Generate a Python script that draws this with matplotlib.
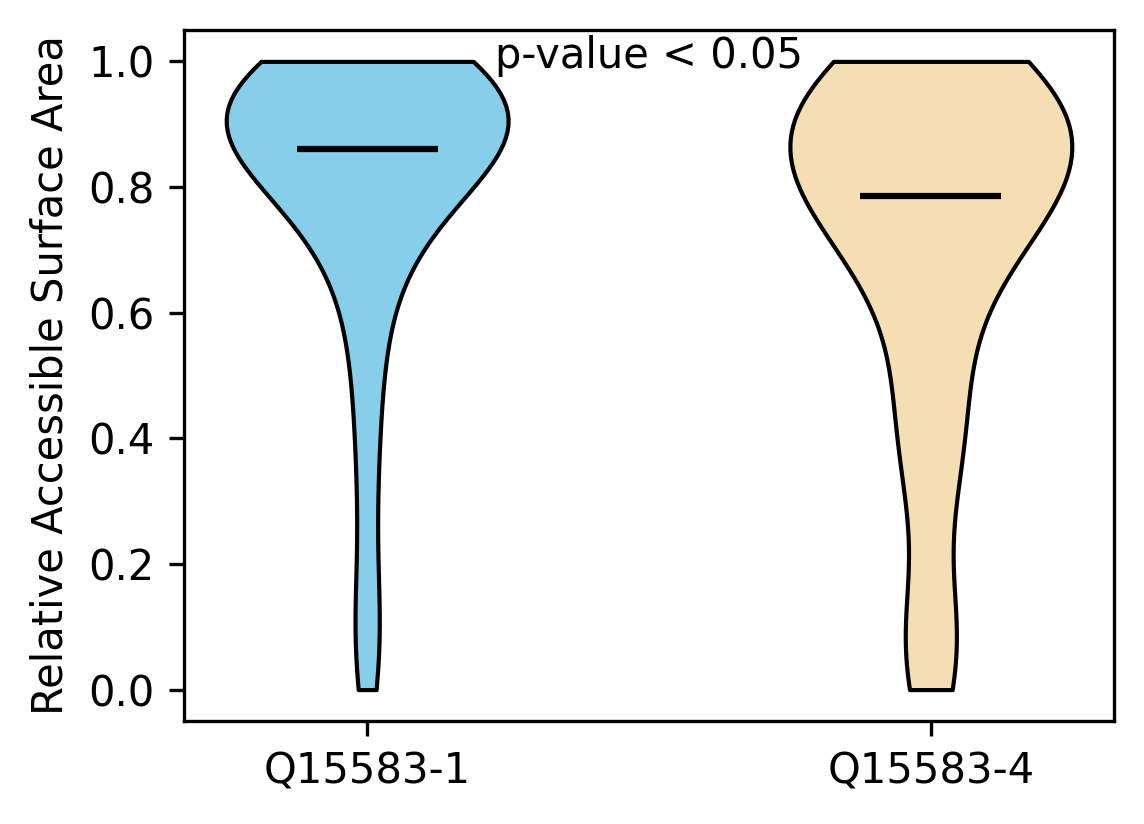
import matplotlib
matplotlib.use("Agg")
import matplotlib.pyplot as plt

labels = ["Q15583-1", "Q15583-4"]

# relative ASA values per isoform
rsa_q1 = [
    0.00, 0.05, 0.09, 0.12, 0.20, 0.28, 0.35, 0.41, 0.46, 0.51,
    0.55, 0.59, 0.62, 0.65, 0.67, 0.69, 0.71, 0.72, 0.74, 0.75, 0.76, 0.77, 0.78, 0.79, 0.80,
    0.81, 0.82, 0.82, 0.83, 0.83, 0.84, 0.84, 0.84, 0.85, 0.85, 0.85, 0.86, 0.86, 0.86, 0.86,
    0.86, 0.87, 0.88, 0.89, 0.89, 0.90, 0.90, 0.91, 0.91, 0.92, 0.92, 0.92, 0.93, 0.93, 0.93,
    0.94, 0.94, 0.94, 0.95, 0.95, 0.95, 0.96, 0.96, 0.96, 0.96, 0.97, 0.97, 0.97, 0.97, 0.97,
    0.98, 0.98, 0.98, 0.98, 0.99, 0.99, 0.99, 1.00, 1.00, 1.00,
]
rsa_q4 = [
    0.00, 0.02, 0.04, 0.06, 0.08, 0.09, 0.11, 0.13,
    0.31, 0.33, 0.35, 0.37, 0.39, 0.41, 0.43, 0.46, 0.49, 0.52, 0.55, 0.57,
    0.60, 0.62, 0.64, 0.66, 0.68, 0.70, 0.72, 0.73,
    0.74, 0.74, 0.75, 0.75, 0.76, 0.76, 0.77, 0.77, 0.77, 0.78, 0.78, 0.78,
    0.79, 0.80, 0.81, 0.82, 0.83, 0.83, 0.84, 0.85, 0.85, 0.86, 0.87, 0.87, 0.88, 0.88,
    0.89, 0.89, 0.90, 0.90, 0.91, 0.91, 0.92, 0.92, 0.93, 0.93, 0.94, 0.94, 0.95, 0.95,
    0.96, 0.96, 0.97, 0.97, 0.97, 0.98, 0.98, 0.98, 0.99, 0.99, 1.00, 1.00,
]
colors = ["skyblue", "wheat"]


def main():
    fig = plt.figure(figsize=(1144 / 300, 824 / 300), dpi=300)
    ax = fig.add_axes([0.1608, 0.125, 0.813, 0.8386])
    parts = ax.violinplot([rsa_q1, rsa_q4], showmedians=True, showextrema=False)
    for body, c in zip(parts["bodies"], colors):
        body.set_facecolor(c)
        body.set_edgecolor("black")
        body.set_linewidth(1.0)
        body.set_alpha(1)
    parts["cmedians"].set_color("black")
    parts["cmedians"].set_linewidth(1.5)

    ax.set_xticks([1, 2], labels)
    ax.set_ylabel("Relative Accessible Surface Area")
    ax.text(1.5, 0.99, "p-value < 0.05", ha="center")
    fig.savefig("out.png", dpi=300)


if __name__ == "__main__":
    main()
